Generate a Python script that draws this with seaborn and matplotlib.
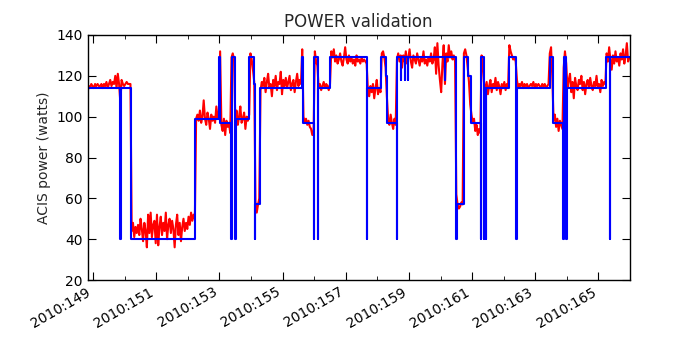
import numpy as np
import pandas as pd
import matplotlib
matplotlib.use("Agg")
import matplotlib.pyplot as plt
from matplotlib.ticker import FixedLocator, MultipleLocator, FuncFormatter
import seaborn as sns

# model (blue): step transitions, day-of-year 2010 -> watts
blue_day = [148.82, 149.86, 149.875, 150.19, 152.24, 153.00, 153.03, 153.37, 153.385, 153.50,
            153.515, 153.95, 154.09, 154.12, 154.135, 154.29, 155.62, 155.66, 155.98, 155.995,
            156.11, 156.125, 156.51, 157.67, 157.685, 158.12, 158.28, 158.32, 158.61, 158.625,
            158.74, 158.76, 158.86, 158.88, 158.96, 158.98, 160.13, 160.15, 160.50, 160.515,
            160.74, 160.87, 160.97, 161.27, 161.285, 161.37, 161.385, 161.44, 161.455, 162.17,
            162.40, 162.415, 163.46, 163.56, 163.88, 163.895, 163.98, 163.995, 165.23, 165.36,
            165.375, 166.00]
blue_watts = [114, 40, 114, 40, 99, 129, 97, 40, 129, 40,
              99, 129, 116, 40, 57, 114, 129, 97, 40, 129,
              40, 114, 129, 40, 114, 129, 120, 97, 40, 129,
              118, 129, 118, 129, 118, 129, 118, 129, 40, 57,
              129, 120, 97, 40, 129, 40, 114, 40, 114, 129,
              40, 114, 129, 97, 40, 129, 40, 114, 129, 40,
              129, 129]

# telemetry (red): one sample every 0.04 day starting at 148.82
red_start = 148.82
red_step = 0.04
red_watts = [
    112, 115, 114, 116, 115, 114, 116, 115, 116, 115,   # 0
    115, 116, 114, 116, 115, 117, 114, 116, 118, 115,   # 10
    117, 116, 120, 114, 121, 116, 107, 118, 116, 115,   # 20
    116, 117, 116, 116, 116, 44, 48, 41, 46, 43,        # 30
    47, 42, 50, 45, 39, 48, 44, 36, 52, 43,             # 40
    53, 41, 47, 49, 38, 52, 37, 46, 51, 42,             # 50
    48, 44, 53, 40, 47, 50, 43, 49, 45, 36,             # 60
    47, 52, 42, 48, 39, 46, 50, 44, 48, 45,             # 70
    51, 47, 53, 49, 52, 50, 99, 101, 98, 103,           # 80
    97, 100, 108, 99, 96, 102, 99, 94, 101, 98,         # 90
    100, 97, 105, 99, 100, 132, 96, 93, 99, 91,         # 100
    98, 95, 97, 92, 129, 131, 128, 99, 103, 96,         # 110
    100, 105, 97, 99, 102, 94, 100, 98, 101, 131,       # 120
    128, 123, 117, 58, 53, 57, 60, 113, 117, 115,       # 130
    119, 112, 117, 121, 114, 116, 110, 118, 115, 120,   # 140
    113, 117, 116, 122, 111, 118, 115, 119, 114, 117,   # 150
    120, 113, 116, 118, 112, 117, 121, 115, 118, 116,   # 160
    133, 100, 97, 99, 96, 98, 95, 94, 91, 93,           # 170
    132, 127, 125, 114, 116, 113, 115, 117, 114, 116,   # 180
    115, 113, 116, 132, 129, 133, 127, 130, 126, 128,   # 190
    131, 127, 125, 129, 134, 128, 126, 130, 127, 129,   # 200
    126, 128, 125, 130, 127, 128, 126, 129, 127, 128,   # 210
    127, 126, 113, 110, 115, 112, 116, 109, 114, 118,   # 220
    111, 114, 112, 131, 132, 129, 124, 110, 99, 96,     # 230
    101, 97, 94, 99, 96, 128, 131, 127, 130, 124,       # 240
    130, 127, 132, 126, 129, 133, 127, 124, 130, 128,   # 250
    126, 131, 128, 125, 129, 127, 132, 126, 128, 125,   # 260
    129, 127, 131, 126, 128, 134, 121, 136, 125, 118,   # 270
    112, 126, 135, 116, 131, 127, 135, 129, 132, 128,   # 280
    130, 127, 62, 57, 55, 56, 58, 57, 131, 133,         # 290
    130, 124, 117, 106, 101, 97, 99, 93, 96, 91,        # 300
    94, 92, 130, 127, 116, 113, 117, 111, 115, 118,     # 310
    112, 116, 114, 119, 113, 117, 115, 111, 116, 114,   # 320
    117, 113, 116, 115, 135, 132, 130, 128, 129, 127,   # 330
    118, 114, 116, 115, 117, 114, 116, 115, 116, 114,   # 340
    115, 116, 115, 117, 114, 116, 115, 116, 115, 114,   # 350
    116, 115, 116, 114, 115, 116, 131, 134, 119, 98,    # 360
    101, 95, 99, 93, 98, 96, 94, 124, 132, 126,         # 370
    114, 118, 121, 112, 117, 109, 119, 115, 113, 118,   # 380
    116, 120, 113, 117, 111, 116, 118, 114, 119, 115,   # 390
    113, 117, 115, 120, 114, 116, 112, 118, 115, 117,   # 400
    116, 131, 127, 134, 128, 123, 130, 126, 132, 127,   # 410
    129, 125, 131, 128, 133, 126, 130, 136, 127, 129,   # 420
]
red_day = red_start + red_step * np.arange(len(red_watts))

day_ticks = list(range(149, 167, 2))

sns.set_style("ticks")
plt.rcParams['font.family'] = ['DejaVu Sans']
plt.rcParams['font.size'] = 10

fig, ax = plt.subplots(figsize=(7, 3.5), dpi=100)
fig.subplots_adjust(left=0.125, right=0.9, bottom=0.2, top=0.9)

red_df = pd.DataFrame({'day': red_day, 'watts': red_watts})
blue_df = pd.DataFrame({'day': blue_day, 'watts': blue_watts})

sns.lineplot(data=red_df, x='day', y='watts', color='red', lw=1.5,
             estimator=None, ax=ax)
sns.lineplot(data=blue_df, x='day', y='watts', color='blue', lw=1.5,
             estimator=None, drawstyle='steps-post', ax=ax)

ax.set_xlim(148.82, 166.0)
ax.set_ylim(20, 140)
ax.xaxis.set_major_locator(FixedLocator(day_ticks))
ax.xaxis.set_minor_locator(MultipleLocator(1))
ax.xaxis.set_major_formatter(FuncFormatter(lambda v, p: "2010:%03d" % int(round(v))))
ax.yaxis.set_major_locator(MultipleLocator(20))

ax.tick_params(which='both', direction='in', top=True, right=True, colors='black',
               labelsize=10)
ax.tick_params(which='major', length=6)
ax.tick_params(which='minor', length=3)
for lbl in ax.get_xticklabels():
    lbl.set_rotation(30)
    lbl.set_ha('right')
for sp in ax.spines.values():
    sp.set_visible(True)
    sp.set_color('black')
    sp.set_linewidth(1.0)

ax.set_xlabel('')
ax.set_ylabel('ACIS power (watts)', fontsize=10)
ax.set_title('POWER validation', fontsize=12)

fig.savefig('out.png', dpi=100)
